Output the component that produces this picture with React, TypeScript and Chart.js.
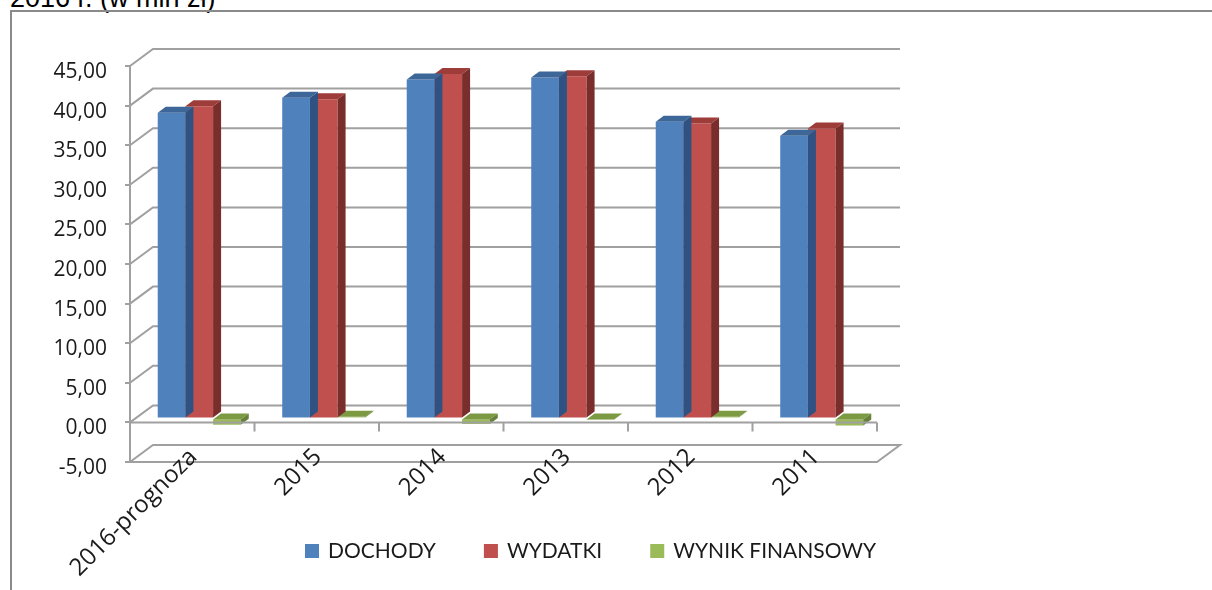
import React, { useEffect, useRef } from 'react';
import { Chart, registerables } from 'chart.js';

Chart.register(...registerables);

const categories = ['2016-prognoza', '2015', '2014', '2013', '2012', '2011'];
const dochody = [38.6, 40.5, 42.8, 43.05, 37.45, 35.7];
const wydatki = [39.4, 40.3, 43.5, 43.2, 37.25, 36.6];
const wynikFinansowy = [-0.8, 0.2, -0.7, -0.15, 0.2, -0.9];
const seriesLabels = ['DOCHODY', 'WYDATKI', 'WYNIK FINANSOWY'];
const yMin = -5;
const yMax = 45;
const yStep = 5;

const frontColors = ['#4F81BD', '#C0504D', '#9BBB59'];
const topColors = ['#3D6798', '#9E3C39', '#7C9A42'];
const sideColors = ['#2F5282', '#7A2E2C', '#66803A'];

const FONT = "'Open Sans', 'Liberation Sans', sans-serif";
const LEGEND_FONT = "Lato, 'Open Sans', sans-serif";
const GRID = '#a0a0a0';
const WALL = { dx: 23, dy: 17 };
const BAR_SHIFT = { dx: 7, dy: 4 };
const BAR_DEPTH = { dx: 8, dy: 6 };
const LEGEND_LEFT = 293;
const LEGEND_BASELINE = 546;
const XLABEL_SHIFT = { dx: 6, dy: -4 };

function poly(ctx: CanvasRenderingContext2D, pts: number[][], fill: string) {
  ctx.beginPath();
  ctx.moveTo(pts[0][0], pts[0][1]);
  for (let i = 1; i < pts.length; i++) ctx.lineTo(pts[i][0], pts[i][1]);
  ctx.closePath();
  ctx.fillStyle = fill;
  ctx.fill();
}

const threeD = {
  id: 'threeD',
  beforeDatasetsDraw(chart: any) {
    const { ctx, chartArea: a } = chart;
    const y = chart.scales.y;
    ctx.save();
    ctx.strokeStyle = GRID;
    ctx.lineWidth = 2;
    for (const t of y.ticks) {
      const py = y.getPixelForValue(t.value);
      ctx.beginPath();
      ctx.moveTo(a.left, py);
      ctx.lineTo(a.left + WALL.dx, py - WALL.dy);
      ctx.lineTo(a.right + WALL.dx, py - WALL.dy);
      if (t.value === y.min) {
        ctx.lineTo(a.right, py);
        ctx.closePath();
      }
      ctx.stroke();
    }
    ctx.restore();
    ctx.save();
    ctx.translate(BAR_SHIFT.dx, -BAR_SHIFT.dy);
  },
  afterDatasetDraw(chart: any, args: any) {
    const { ctx } = chart;
    const i = args.index;
    const meta = args.meta;
    for (const el of meta.data) {
      const p = el.getProps(['x', 'y', 'base', 'width'], true);
      const l = p.x - p.width / 2;
      const r = p.x + p.width / 2;
      const top = Math.min(p.y, p.base);
      const bot = Math.max(p.y, p.base);
      poly(ctx, [[l, top], [r, top], [r + BAR_DEPTH.dx, top - BAR_DEPTH.dy], [l + BAR_DEPTH.dx, top - BAR_DEPTH.dy]], topColors[i]);
      poly(ctx, [[r, top], [r + BAR_DEPTH.dx, top - BAR_DEPTH.dy], [r + BAR_DEPTH.dx, bot - BAR_DEPTH.dy], [r, bot]], sideColors[i]);
    }
  },
  afterDatasetsDraw(chart: any) {
    const { ctx, chartArea: a } = chart;
    ctx.restore();
    const y = chart.scales.y;
    const x = chart.scales.x;
    const y0 = y.getPixelForValue(0);
    ctx.save();
    ctx.strokeStyle = GRID;
    ctx.lineWidth = 2;
    ctx.beginPath();
    ctx.moveTo(a.left, y0);
    ctx.lineTo(a.right, y0);
    const n = categories.length;
    for (let k = 1; k <= n; k++) {
      const bx = x.left + (k * x.width) / n;
      ctx.moveTo(bx, y0);
      ctx.lineTo(bx, y0 + 9);
    }
    ctx.stroke();
    ctx.restore();
  },
  afterDraw(chart: any) {
    const { ctx, chartArea: a } = chart;
    const x = chart.scales.x;
    ctx.save();
    // category labels, rotated 45 degrees
    ctx.font = `24px ${FONT}`;
    ctx.fillStyle = '#1a1a1a';
    ctx.textAlign = 'right';
    ctx.textBaseline = 'alphabetic';
    categories.forEach((c, k) => {
      const px = x.getPixelForTick(k) + XLABEL_SHIFT.dx;
      const py = a.bottom + XLABEL_SHIFT.dy;
      ctx.save();
      ctx.translate(px, py);
      ctx.rotate(-Math.PI / 4);
      ctx.fillText(c, 0, 0);
      ctx.restore();
    });
    // legend
    ctx.font = `21px ${LEGEND_FONT}`;
    const box = 14;
    const gap = 9;
    const spacing = 48;
    const widths = seriesLabels.map((s) => ctx.measureText(s).width);
    let cx = LEGEND_LEFT;
    ctx.textAlign = 'left';
    seriesLabels.forEach((s, k) => {
      ctx.fillStyle = frontColors[k];
      ctx.fillRect(cx, LEGEND_BASELINE - 14, box, box);
      ctx.fillStyle = '#1a1a1a';
      ctx.fillText(s, cx + box + gap, LEGEND_BASELINE);
      cx += box + gap + widths[k] + spacing;
    });
    ctx.restore();
  },
};

export default function App() {
  const ref = useRef<HTMLCanvasElement>(null);
  useEffect(() => {
    if (!ref.current) return;
    const chart = new Chart(ref.current, {
      type: 'bar',
      data: {
        labels: categories,
        datasets: [dochody, wydatki, wynikFinansowy].map((d, k) => ({
          label: seriesLabels[k],
          data: d,
          backgroundColor: frontColors[k],
          borderWidth: 0,
          categoryPercentage: 0.667,
          barPercentage: 1,
          clip: false as any,
        })),
      },
      options: {
        responsive: false,
        animation: false,
        devicePixelRatio: 1,
        layout: { padding: { left: 0, top: 54, right: 323, bottom: 0 } },
        plugins: { legend: { display: false }, tooltip: { enabled: false }, title: { display: false } },
        scales: {
          x: {
            grid: { display: false, drawTicks: false },
            border: { display: false },
            ticks: { display: false, autoSkip: false },
            afterFit: (s: any) => { s.height = 128; },
          },
          y: {
            min: yMin,
            max: yMax,
            grid: { display: true, drawOnChartArea: false, drawTicks: true, tickLength: 5, color: GRID, lineWidth: 2 },
            border: { display: true, color: GRID, width: 2 },
            ticks: {
              stepSize: yStep,
              padding: 18,
              labelOffset: 6,
              color: '#1a1a1a',
              font: { family: FONT, size: 21 },
              callback: (v: any) => Number(v).toFixed(2).replace('.', ','),
            },
            afterFit: (s: any) => { s.width = 118; },
          },
        },
      },
      plugins: [threeD],
    });
    return () => chart.destroy();
  }, []);

  return (
    <div style={{ position: 'absolute', left: 0, top: 0, width: 1212, height: 590, overflow: 'hidden', background: '#fff' }}>
      <div style={{ position: 'absolute', left: 10, top: -17, fontFamily: "'Liberation Sans', Arial, sans-serif", fontSize: 27, lineHeight: '30px', color: '#000', whiteSpace: 'nowrap' }}>
        2016 r. (w mln zł)
      </div>
      <div style={{ position: 'absolute', left: 10, top: 10, width: 1300, height: 700, border: '2px solid #8a8a8a' }} />
      <canvas ref={ref} width={1188} height={578} style={{ position: 'absolute', left: 12, top: 12 }} />
    </div>
  );
}
